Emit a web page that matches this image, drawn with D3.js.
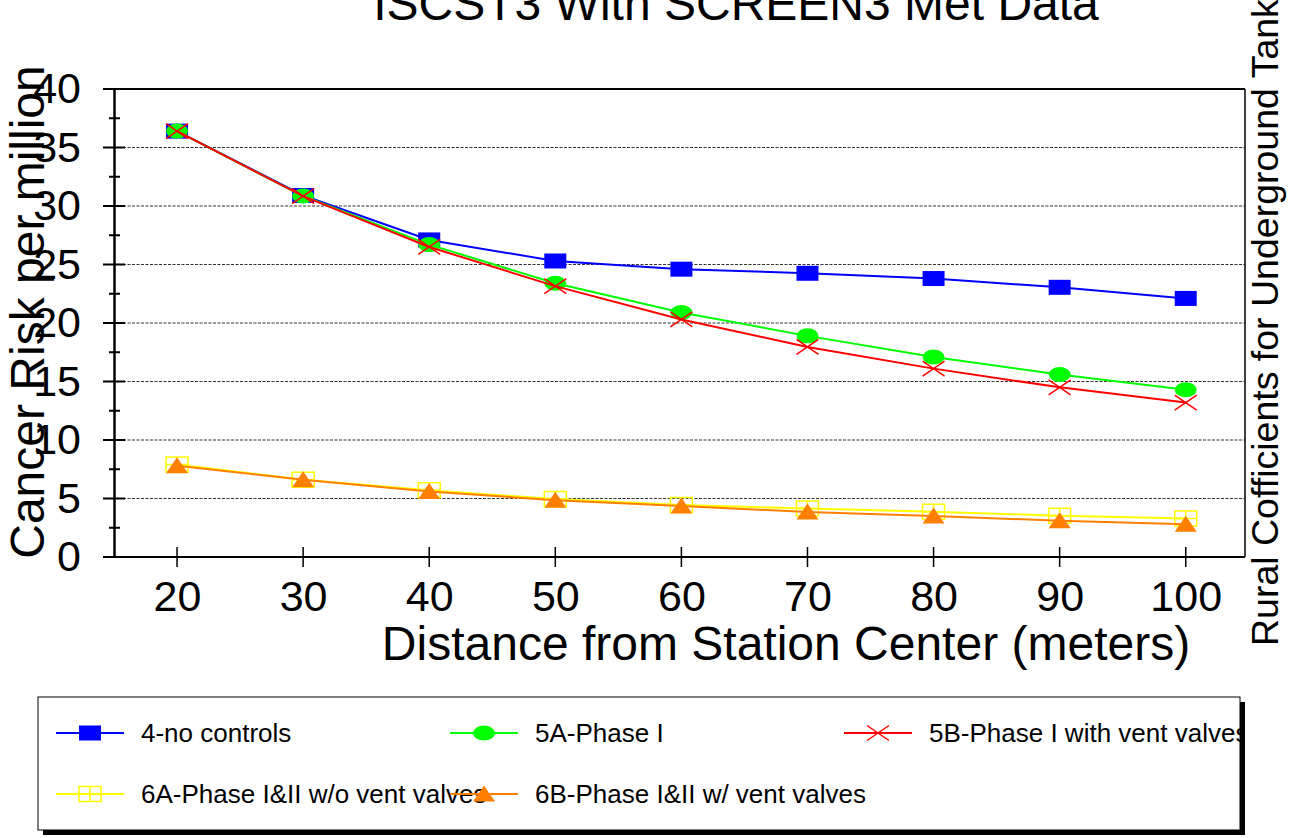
<!DOCTYPE html>
<html>
<head>
<meta charset="utf-8">
<script src="https://cdn.jsdelivr.net/npm/d3@7/dist/d3.min.js"></script>
<style>
  html, body { margin: 0; padding: 0; background: #fff; overflow: hidden; }
  svg { display: block; font-family: "Liberation Sans", Arial, sans-serif; }
</style>
</head>
<body>
<svg id="chart" width="1289" height="838"></svg>
<script>
// ---- data ----
const distances = [20, 30, 40, 50, 60, 70, 80, 90, 100];
const noControls = [36.4, 30.9, 27.1, 25.3, 24.6, 24.25, 23.8, 23.05, 22.1];
const phase5A = [36.4, 30.85, 26.7, 23.4, 20.9, 18.9, 17.1, 15.6, 14.3];
const phase5B = [36.4, 30.85, 26.5, 23.15, 20.3, 17.95, 16.1, 14.5, 13.2];
const phase6A = [7.9, 6.6, 5.7, 4.95, 4.45, 4.15, 3.87, 3.53, 3.3];
const phase6B = [7.8, 6.6, 5.6, 4.85, 4.35, 3.85, 3.5, 3.1, 2.8];
const seriesNames = ["4-no controls", "5A-Phase I", "5B-Phase I with vent valves",
                     "6A-Phase I&II w/o vent valves", "6B-Phase I&II w/ vent valves"];
const yTicks = [0, 5, 10, 15, 20, 25, 30, 35, 40];
const xTicks = [20, 30, 40, 50, 60, 70, 80, 90, 100];
const titleText = "ISCST3 With SCREEN3 Met Data";
const xTitle = "Distance from Station Center (meters)";
const yTitle = "Cancer Risk per million";
const rightTitle = "Rural Cofficients for Underground Tank";

const series = [
  { name: seriesNames[0], values: noControls, color: "#0000ff", marker: "square" },
  { name: seriesNames[1], values: phase5A, color: "#00ff00", marker: "circle" },
  { name: seriesNames[2], values: phase5B, color: "#ff0000", marker: "x" },
  { name: seriesNames[3], values: phase6A, color: "#ffff00", marker: "gridsquare" },
  { name: seriesNames[4], values: phase6B, color: "#ff8000", marker: "triangle" }
];

const svg = d3.select("#chart");
const L = 114, R = 1245, T = 89, B = 557;
const x = d3.scaleLinear().domain([15, 104.7]).range([L, R]);
const y = d3.scaleLinear().domain([0, 40]).range([B, T]);

// gridlines
svg.append("g").selectAll("line").data(yTicks.filter(v => v > 0 && v < 40)).join("line")
  .attr("x1", L).attr("x2", R).attr("y1", d => y(d)).attr("y2", d => y(d))
  .attr("stroke", "#333").attr("stroke-width", 1).attr("stroke-dasharray", "3,1.5");

// frame: top and right
svg.append("line").attr("x1", L).attr("x2", R).attr("y1", T).attr("y2", T).attr("stroke", "#000").attr("stroke-width", 2);
svg.append("line").attr("x1", R).attr("x2", R).attr("y1", T).attr("y2", B).attr("stroke", "#000").attr("stroke-width", 1.5);

// y axis
const yAxis = d3.axisLeft(y).tickValues(yTicks).tickSize(0).tickPadding(33).tickFormat(d3.format("d"));
const gy = svg.append("g").attr("transform", `translate(${L},0)`).call(yAxis);
gy.select(".domain").attr("stroke", "#000").attr("stroke-width", 2.5);
gy.selectAll(".tick text").attr("font-size", 43).attr("fill", "#000")
  .attr("font-family", "Liberation Sans, Arial, sans-serif");
// major ticks crossing
svg.append("g").selectAll("line").data(yTicks).join("line")
  .attr("x1", L - 11).attr("x2", L + 11).attr("y1", d => y(d)).attr("y2", d => y(d))
  .attr("stroke", "#000").attr("stroke-width", 2);
// minor ticks
const yMinor = d3.range(2.5, 40, 5);
svg.append("g").selectAll("line").data(yMinor).join("line")
  .attr("x1", L - 5).attr("x2", L + 6).attr("y1", d => y(d)).attr("y2", d => y(d))
  .attr("stroke", "#000").attr("stroke-width", 2);

// x axis
const xAxis = d3.axisBottom(x).tickValues(xTicks).tickSize(0).tickPadding(23).tickFormat(d3.format("d"));
const gx = svg.append("g").attr("transform", `translate(0,${B})`).call(xAxis);
gx.select(".domain").attr("stroke", "#000").attr("stroke-width", 2).attr("d", `M${L - 11},0H${R}`);
gx.selectAll(".tick text").attr("font-size", 43).attr("fill", "#000")
  .attr("font-family", "Liberation Sans, Arial, sans-serif");
svg.append("g").selectAll("line").data(xTicks).join("line")
  .attr("x1", d => x(d)).attr("x2", d => x(d)).attr("y1", B - 10).attr("y2", B + 10)
  .attr("stroke", "#000").attr("stroke-width", 1.5);

// titles
svg.append("text").attr("x", 736).attr("y", 20).attr("text-anchor", "middle")
  .attr("font-size", 48).text(titleText);
svg.append("text").attr("x", 786).attr("y", 660).attr("text-anchor", "middle")
  .attr("font-size", 48).text(xTitle);
svg.append("text").attr("transform", "translate(44,312) rotate(-90)").attr("text-anchor", "middle")
  .attr("font-size", 48).text(yTitle);
svg.append("text").attr("transform", "translate(1278,646) rotate(-90)").attr("text-anchor", "start")
  .attr("font-size", 37.5).text(rightTitle);

// marker drawing
function drawMarker(g, type, color) {
  const w = 11, h = 7.5;
  if (type === "square") {
    g.append("rect").attr("x", -w).attr("y", -h).attr("width", 2 * w).attr("height", 2 * h).attr("fill", color);
  } else if (type === "circle") {
    g.append("ellipse").attr("rx", w).attr("ry", h).attr("fill", color);
  } else if (type === "x") {
    g.append("path").attr("d", `M${-w},${-h}L${w},${h}M${-w},${h}L${w},${-h}`)
      .attr("stroke", color).attr("stroke-width", 1.5).attr("fill", "none");
  } else if (type === "gridsquare") {
    g.append("path").attr("d", `M${-w},${-h}H${w}V${h}H${-w}Z M0,${-h}V${h} M${-w},0H${w}`)
      .attr("stroke", color).attr("stroke-width", 1.5).attr("fill", "none");
  } else if (type === "triangle") {
    g.append("path").attr("d", `M0,${-h - 1}L${w},${h}L${-w},${h}Z`).attr("fill", color);
  }
}

// series
const line = d3.line().x((d, i) => x(distances[i])).y(d => y(d));
series.forEach(s => {
  const g = svg.append("g");
  g.append("path").attr("d", line(s.values)).attr("fill", "none")
    .attr("stroke", s.color).attr("stroke-width", 2);
  s.values.forEach((v, i) => {
    const mg = g.append("g").attr("transform", `translate(${x(distances[i])},${y(v)})`);
    drawMarker(mg, s.marker, s.color);
  });
});

// legend
const lg = svg.append("g");
const LX = 38, LY = 697, LW = 1202, LH = 133;
lg.append("rect").attr("x", LX + 5).attr("y", LY + 5).attr("width", LW).attr("height", LH).attr("fill", "#000");
lg.append("rect").attr("x", LX).attr("y", LY).attr("width", LW).attr("height", LH)
  .attr("fill", "#fff").attr("stroke", "#000").attr("stroke-width", 1);
svg.append("clipPath").attr("id", "legclip").append("rect")
  .attr("x", LX).attr("y", LY).attr("width", LW).attr("height", LH);
const legPos = [[90, 733], [484, 733], [878, 733], [90, 794], [484, 794]];
const items = lg.append("g").attr("clip-path", "url(#legclip)");
series.forEach((s, i) => {
  const [cx, cy] = legPos[i];
  const g = items.append("g");
  g.append("line").attr("x1", cx - 34).attr("x2", cx + 34).attr("y1", cy).attr("y2", cy)
    .attr("stroke", s.color).attr("stroke-width", 2);
  const mg = g.append("g").attr("transform", `translate(${cx},${cy})`);
  drawMarker(mg, s.marker, s.color);
  g.append("text").attr("x", cx + 51).attr("y", cy + 9).attr("font-size", 26).text(s.name);
});
</script>
</body>
</html>
